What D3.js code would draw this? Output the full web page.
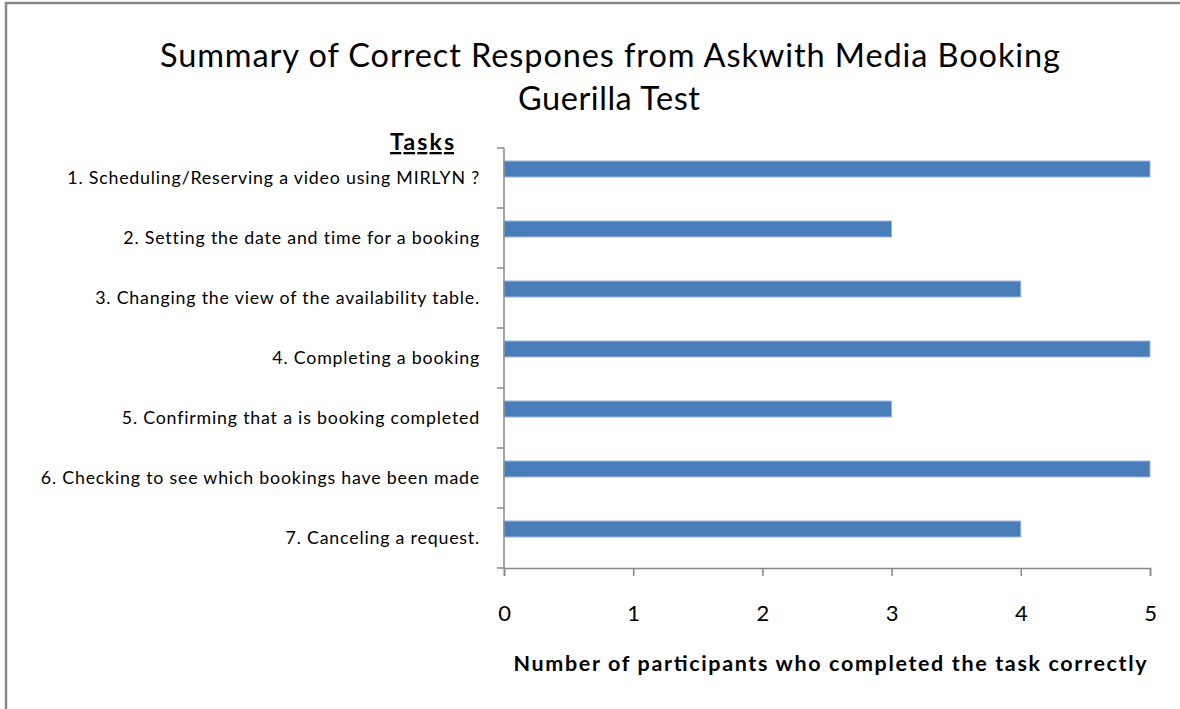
<!DOCTYPE html>
<html>
<head>
<meta charset="utf-8">
<script src="https://cdn.jsdelivr.net/npm/d3@7"></script>
<style>
  body { margin: 0; background: #fff; }
  text { font-family: Lato, "Open Sans", sans-serif; fill: #000; }
</style>
</head>
<body>
<div id="chart"></div>
<script>
// Data
let tasks = [
  "1. Scheduling/Reserving a video using MIRLYN ?",
  "2. Setting the date and time for a booking",
  "3. Changing the view of the availability table.",
  "4. Completing a booking",
  "5. Confirming that a is booking completed",
  "6. Checking to see which bookings have been made",
  "7. Canceling a request."
];
let correct = [5, 3, 4, 5, 3, 5, 4];
let xTicks = [0, 1, 2, 3, 4, 5];

let W = 1180, H = 709;
let plotLeft = 504, plotRight = 1150, plotTop = 148, plotBottom = 568;

let svg = d3.select("#chart").append("svg")
  .attr("width", W)
  .attr("height", H);

// frame
svg.append("path")
  .attr("d", "M6,712 L6,3 L1185,3")
  .attr("fill", "none")
  .attr("stroke", "#888")
  .attr("stroke-width", 2.5);

// Title
svg.append("text")
  .attr("x", 610).attr("y", 67)
  .attr("text-anchor", "middle")
  .attr("textLength", 900)
  .attr("lengthAdjust", "spacing")
  .style("font-size", "32.5px")
  .text("Summary of Correct Respones  from Askwith Media Booking");
svg.append("text")
  .attr("x", 609).attr("y", 110)
  .attr("text-anchor", "middle")
  .attr("textLength", 182)
  .attr("lengthAdjust", "spacing")
  .style("font-size", "32.5px")
  .text("Guerilla Test");

// Scales
let x = d3.scaleLinear().domain([0, 5]).range([plotLeft, plotRight]);
let y = d3.scaleBand().domain(tasks).range([plotTop, plotBottom]);
// bars sit in the upper part of each band (Excel cluster gap)
let inner = d3.scaleBand().domain(["a", "b"]).range([0, y.bandwidth()]).paddingOuter(0.875).paddingInner(0);

// Bars
svg.selectAll("rect.bar")
  .data(tasks)
  .enter()
  .append("rect")
  .attr("class", "bar")
  .attr("x", x(0))
  .attr("y", function (d) {return y(d) + inner("a") - 1})
  .attr("width", function (d, i) {return x(correct[i]) - x(0)})
  .attr("height", inner.bandwidth())
  .attr("fill", "#4a7ebb")
  .attr("stroke", "#9ab9dc")
  .attr("stroke-width", 1);

// Y axis
let yAxis = svg.append("g")
  .attr("transform", "translate(" + plotLeft + ",0)");
yAxis.append("line")
  .attr("y1", plotTop).attr("y2", plotBottom)
  .attr("stroke", "#888").attr("stroke-width", 1.5);
yAxis.selectAll("line.tick")
  .data(tasks.concat(["end"]))
  .enter()
  .append("line")
  .attr("class", "tick")
  .attr("x1", -7).attr("x2", 0)
  .attr("y1", function (d, i) {return i < tasks.length ? y(d) : plotBottom})
  .attr("y2", function (d, i) {return i < tasks.length ? y(d) : plotBottom})
  .attr("stroke", "#888").attr("stroke-width", 1.5);
yAxis.selectAll("text")
  .data(tasks)
  .enter()
  .append("text")
  .attr("x", -24)
  .attr("y", function (d) {return y(d) + y.bandwidth() / 2 + 6})
  .attr("text-anchor", "end")
  .style("font-size", "17.8px")
  .style("letter-spacing", "0.8px")
  .text(function (d) {return d});

// X axis
let xAxis = svg.append("g")
  .attr("transform", "translate(0," + plotBottom + ")")
  .call(d3.axisBottom(x).tickValues(xTicks).tickSize(8).tickPadding(29).tickFormat(d3.format("d")));
xAxis.select(".domain").attr("stroke", "#888").attr("stroke-width", 1.5);
xAxis.selectAll(".tick line").attr("stroke", "#888").attr("stroke-width", 1.5);
xAxis.selectAll(".tick text")
  .style("font-family", "Lato, sans-serif")
  .style("font-size", "22px")
  .attr("fill", "#000");

// Axis titles
svg.append("text")
  .attr("x", 830).attr("y", 671)
  .attr("text-anchor", "middle")
  .attr("textLength", 633)
  .attr("lengthAdjust", "spacing")
  .style("font-size", "21.5px")
  .style("font-weight", "bold")
  .text("Number of participants who completed the task correctly");

svg.append("text")
  .attr("x", 422).attr("y", 150)
  .attr("text-anchor", "middle")
  .attr("textLength", 64)
  .attr("lengthAdjust", "spacing")
  .style("font-size", "23px")
  .style("font-weight", "bold")
  .style("text-decoration", "underline")
  .text("Tasks");
</script>
</body>
</html>
